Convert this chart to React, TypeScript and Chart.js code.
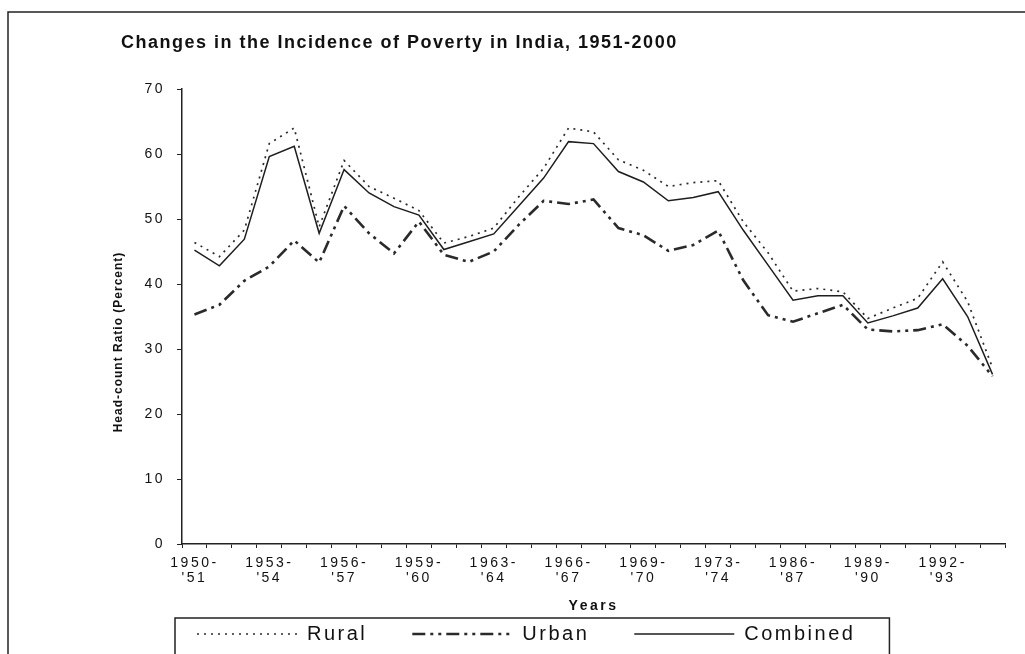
import React, { useEffect, useRef } from 'react';
import { Chart, registerables } from 'chart.js';

Chart.register(...registerables);

const FONT = "'Liberation Sans', Arial, Helvetica, sans-serif";

const TITLE = 'Changes in the Incidence of Poverty in India, 1951-2000';
const Y_TITLE = 'Head-count Ratio (Percent)';
const X_TITLE = 'Years';

const categories = [
  '1950-51', '1951-52', '1952-53', '1953-54', '1954-55', '1955-56', '1956-57', '1957-58',
  '1958-59', '1959-60', '1960-61', '1961-62', '1963-64', '1964-65', '1965-66', '1966-67',
  '1967-68', '1968-69', '1969-70', '1970-71', '1972-73', '1973-74', '1977-78', '1983',
  '1986-87', '1987-88', '1988-89', '1989-90', '1990-91', '1991-92', '1992-93', '1993-94',
  '1999-2000',
];

const tickLabels: (string | string[])[] = [
  ['1950-', "'51"], '', '', ['1953-', "'54"], '', '', ['1956-', "'57"], '', '',
  ['1959-', "'60"], '', '', ['1963-', "'64"], '', '', ['1966-', "'67"], '', '',
  ['1969-', "'70"], '', '', ['1973-', "'74"], '', '', ['1986-', "'87"], '', '',
  ['1989-', "'90"], '', '', ['1992-', "'93"], '', '',
];

const rural = [
  46.4, 44.2, 48.3, 61.6, 64.0, 48.8, 59.0, 55.0, 53.2, 51.3, 46.3, 47.3, 48.6, 53.4, 57.8, 64.0,
  63.4, 59.1, 57.5, 55.0, 55.6, 55.9, 49.6, 44.8, 38.9, 39.3, 38.8, 34.7, 36.3, 37.8, 43.4, 37.3,
  27.1,
];

const urban = [
  35.3, 36.8, 40.5, 42.7, 46.7, 43.3, 52.0, 47.8, 44.7, 49.6, 44.5, 43.4, 45.0, 49.1, 52.8, 52.3,
  53.0, 48.6, 47.5, 45.1, 46.0, 48.2, 40.6, 35.2, 34.2, 35.5, 36.8, 33.0, 32.7, 32.9, 33.8, 30.5,
  25.8,
];

const combined = [
  45.2, 42.8, 46.9, 59.6, 61.2, 47.8, 57.6, 54.0, 51.9, 50.6, 45.3, 46.5, 47.7, 52.0, 56.3, 61.9,
  61.6, 57.3, 55.7, 52.8, 53.3, 54.2, 48.3, 42.9, 37.5, 38.2, 38.2, 34.0, 35.1, 36.3, 40.8, 35.0,
  26.1,
];

const decorPlugin = {
  id: 'decor',
  beforeUpdate(chart: any) {
    chart.ctx.letterSpacing = '2.5px';
  },
  afterLayout(chart: any) {
    // place the boxed legend under the axis title, starting just right of the y-axis labels
    const lg = chart.legend;
    if (!lg) return;
    const ca = chart.chartArea;
    const dx = ca.left - 30 - lg.left;
    const dy = ca.bottom + 35 - lg.top;
    lg.left += dx;
    lg.right += dx;
    lg.top += dy;
    lg.bottom += dy;
  },
  beforeDraw(chart: any) {
    const ctx = chart.ctx as any;
    ctx.letterSpacing = '2.5px';
    ctx.save();
    ctx.fillStyle = '#ffffff';
    ctx.fillRect(0, 0, chart.width, chart.height);
    // outer frame
    ctx.strokeStyle = '#222';
    ctx.lineWidth = 1.5;
    ctx.beginPath();
    ctx.moveTo(8, chart.height);
    ctx.lineTo(8, 12);
    ctx.lineTo(chart.width, 12);
    ctx.stroke();
    // main title
    ctx.fillStyle = '#111';
    ctx.textBaseline = 'middle';
    ctx.textAlign = 'left';
    ctx.letterSpacing = '1.5px';
    ctx.font = `bold 18px ${FONT}`;
    ctx.fillText(TITLE, 121, 43);
    // y-axis title
    ctx.translate(119, 342);
    ctx.rotate(-Math.PI / 2);
    ctx.textAlign = 'center';
    ctx.letterSpacing = '1px';
    ctx.font = `bold 12px ${FONT}`;
    ctx.fillText(Y_TITLE, 0, 0);
    ctx.restore();
  },
  afterDraw(chart: any) {
    const ctx = chart.ctx as any;
    const hb = chart.legend && chart.legend.legendHitBoxes;
    if (!hb || !hb.length) return;
    const first = hb[0];
    const last = hb[hb.length - 1];
    ctx.save();
    ctx.strokeStyle = '#222';
    ctx.lineWidth = 1.5;
    ctx.setLineDash([]);
    const left = first.left - 22;
    const right = last.left + last.width + 34;
    const top = first.top - 6;
    ctx.beginPath();
    ctx.moveTo(left, chart.height + 5);
    ctx.lineTo(left, top);
    ctx.lineTo(right, top);
    ctx.lineTo(right, chart.height + 5);
    ctx.stroke();
    ctx.restore();
  },
};

export default function App() {
  const canvasRef = useRef<HTMLCanvasElement | null>(null);

  useEffect(() => {
    const canvas = canvasRef.current;
    if (!canvas) return;
    const chart = new Chart(canvas, {
      type: 'line',
      data: {
        labels: categories,
        datasets: [
          {
            label: 'Rural',
            data: rural,
            borderColor: '#2a2a2a',
            borderWidth: 1.7,
            borderDash: [2, 5],
            pointRadius: 0,
            fill: false,
            tension: 0,
          },
          {
            label: 'Urban',
            data: urban,
            borderColor: '#2a2a2a',
            borderWidth: 2.6,
            borderDash: [13, 5, 3, 5, 3, 5],
            pointRadius: 0,
            fill: false,
            tension: 0,
          },
          {
            label: 'Combined',
            data: combined,
            borderColor: '#1e1e1e',
            borderWidth: 1.5,
            pointRadius: 0,
            fill: false,
            tension: 0,
          },
        ],
      },
      options: {
        responsive: false,
        animation: false,
        devicePixelRatio: 1,
        layout: { padding: { left: 125, right: 20, top: 89, bottom: -11 } },
        plugins: {
          title: { display: false },
          tooltip: { enabled: false },
          legend: {
            display: true,
            position: 'bottom',
            align: 'start',
            labels: {
              usePointStyle: true,
              pointStyle: 'line',
              pointStyleWidth: 100,
              boxWidth: 100,
              boxHeight: 20,
              padding: 45,
              color: '#111',
              font: { family: FONT, size: 20 },
              generateLabels: (chart: any) =>
                chart.data.datasets.map((ds: any, i: number) => ({
                  text: ds.label,
                  fillStyle: ds.borderColor,
                  strokeStyle: ds.borderColor,
                  fontColor: '#111',
                  lineWidth: ds.borderWidth,
                  lineDash: ds.borderDash || [],
                  lineCap: 'butt',
                  pointStyle: 'line',
                  hidden: false,
                  datasetIndex: i,
                })),
            },
          },
        },
        scales: {
          x: {
            type: 'category',
            offset: true,
            grid: {
              offset: true,
              drawOnChartArea: false,
              drawTicks: true,
              tickLength: 4,
              color: '#222',
              lineWidth: 1,
            },
            border: { display: true, color: '#222', width: 1.5 },
            ticks: {
              autoSkip: false,
              maxRotation: 0,
              minRotation: 0,
              padding: 7,
              color: '#111',
              font: { family: FONT, size: 14, lineHeight: 1.1 },
              callback: (_v: any, i: number) => tickLabels[i],
            },
            title: {
              display: true,
              text: X_TITLE,
              color: '#111',
              font: { family: FONT, size: 14, weight: 'bold' },
              padding: { top: 0, bottom: -25 },
            },
            afterFit: (s: any) => {
              s.height = 46;
            },
          },
          y: {
            min: 0,
            max: 70,
            grid: {
              drawOnChartArea: false,
              drawTicks: true,
              tickLength: 5,
              color: '#222',
              lineWidth: 1,
            },
            border: { display: true, color: '#222', width: 1.5 },
            ticks: {
              stepSize: 10,
              padding: 12,
              color: '#111',
              font: { family: FONT, size: 14 },
            },
            afterFit: (s: any) => {
              s.width = 57;
            },
          },
        },
      },
      plugins: [decorPlugin],
    } as any);
    return () => {
      chart.destroy();
    };
  }, []);

  return (
    <div
      style={{
        position: 'fixed',
        left: 0,
        top: 0,
        width: 1025,
        height: 654,
        background: '#fff',
        overflow: 'hidden',
      }}
    >
      <canvas ref={canvasRef} width={1025} height={654} style={{ display: 'block' }} />
    </div>
  );
}
